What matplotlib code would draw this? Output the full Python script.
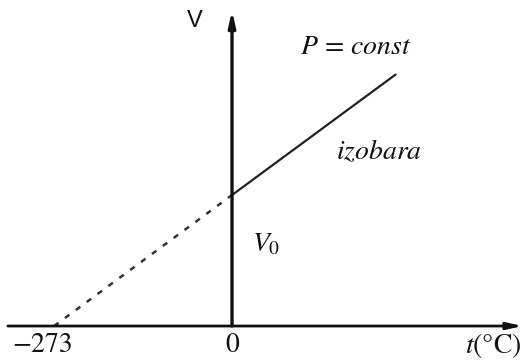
import matplotlib
matplotlib.use("Agg")
import matplotlib.pyplot as plt

plt.rcParams['mathtext.fontset'] = 'stix'
plt.rcParams['font.family'] = ['STIXGeneral', 'DejaVu Serif']

# Data (t in °C, V in units of V0)
t_solid = [0, 251]
V_solid = [1.0, 1.92]
t_dashed = [-273, 0]
V_dashed = [0.0, 1.0]
x_tick_values = [-273, 0]
x_tick_labels = ['−273', '0']

fig = plt.figure(figsize=(5.24, 3.61), dpi=100)
ax = fig.add_axes([0, 0, 1, 1])
ax.set_xlim(-356, 448)
ax.set_ylim(-0.267, 2.489)
ax.axis('off')

# axes with arrows
ax.annotate('', xy=(446, 0), xytext=(-344, 0),
            arrowprops=dict(arrowstyle='-|>,head_length=0.9,head_width=0.2',
                            lw=2.0, color='#111111', shrinkA=0, shrinkB=0))
ax.annotate('', xy=(0, 2.41), xytext=(0, 0),
            arrowprops=dict(arrowstyle='-|>,head_length=0.9,head_width=0.2',
                            lw=2.4, color='#111111', shrinkA=0, shrinkB=0))

ax.plot(t_solid, V_solid, color='#222222', lw=1.6, solid_capstyle='round')
ax.plot(t_dashed, V_dashed, color='#333333', lw=1.8, dashes=(2.2, 3.2))

fs = 20
for v, lab in zip(x_tick_values, x_tick_labels):
    xx = -290 if v == -273 else v
    ax.text(xx, -0.145, lab, ha='center', va='center', fontsize=fs, color='#111111')
ax.text(444, -0.145, r'$t$(°C)', ha='right', va='center', fontsize=fs, color='#111111')
ax.text(-57, 2.33, 'V', ha='center', va='center', fontsize=17, color='#111111',
        family=['Liberation Sans', 'DejaVu Sans'])
ax.text(190, 2.13, r'$P\,=\,const$', ha='center', va='center', fontsize=fs, color='#111111')
ax.text(225, 1.33, r'$izobara$', ha='center', va='center', fontsize=fs, color='#111111')
ax.text(52, 0.62, r'$V_0$', ha='center', va='center', fontsize=fs, color='#111111')

fig.savefig('out.png', dpi=100)
